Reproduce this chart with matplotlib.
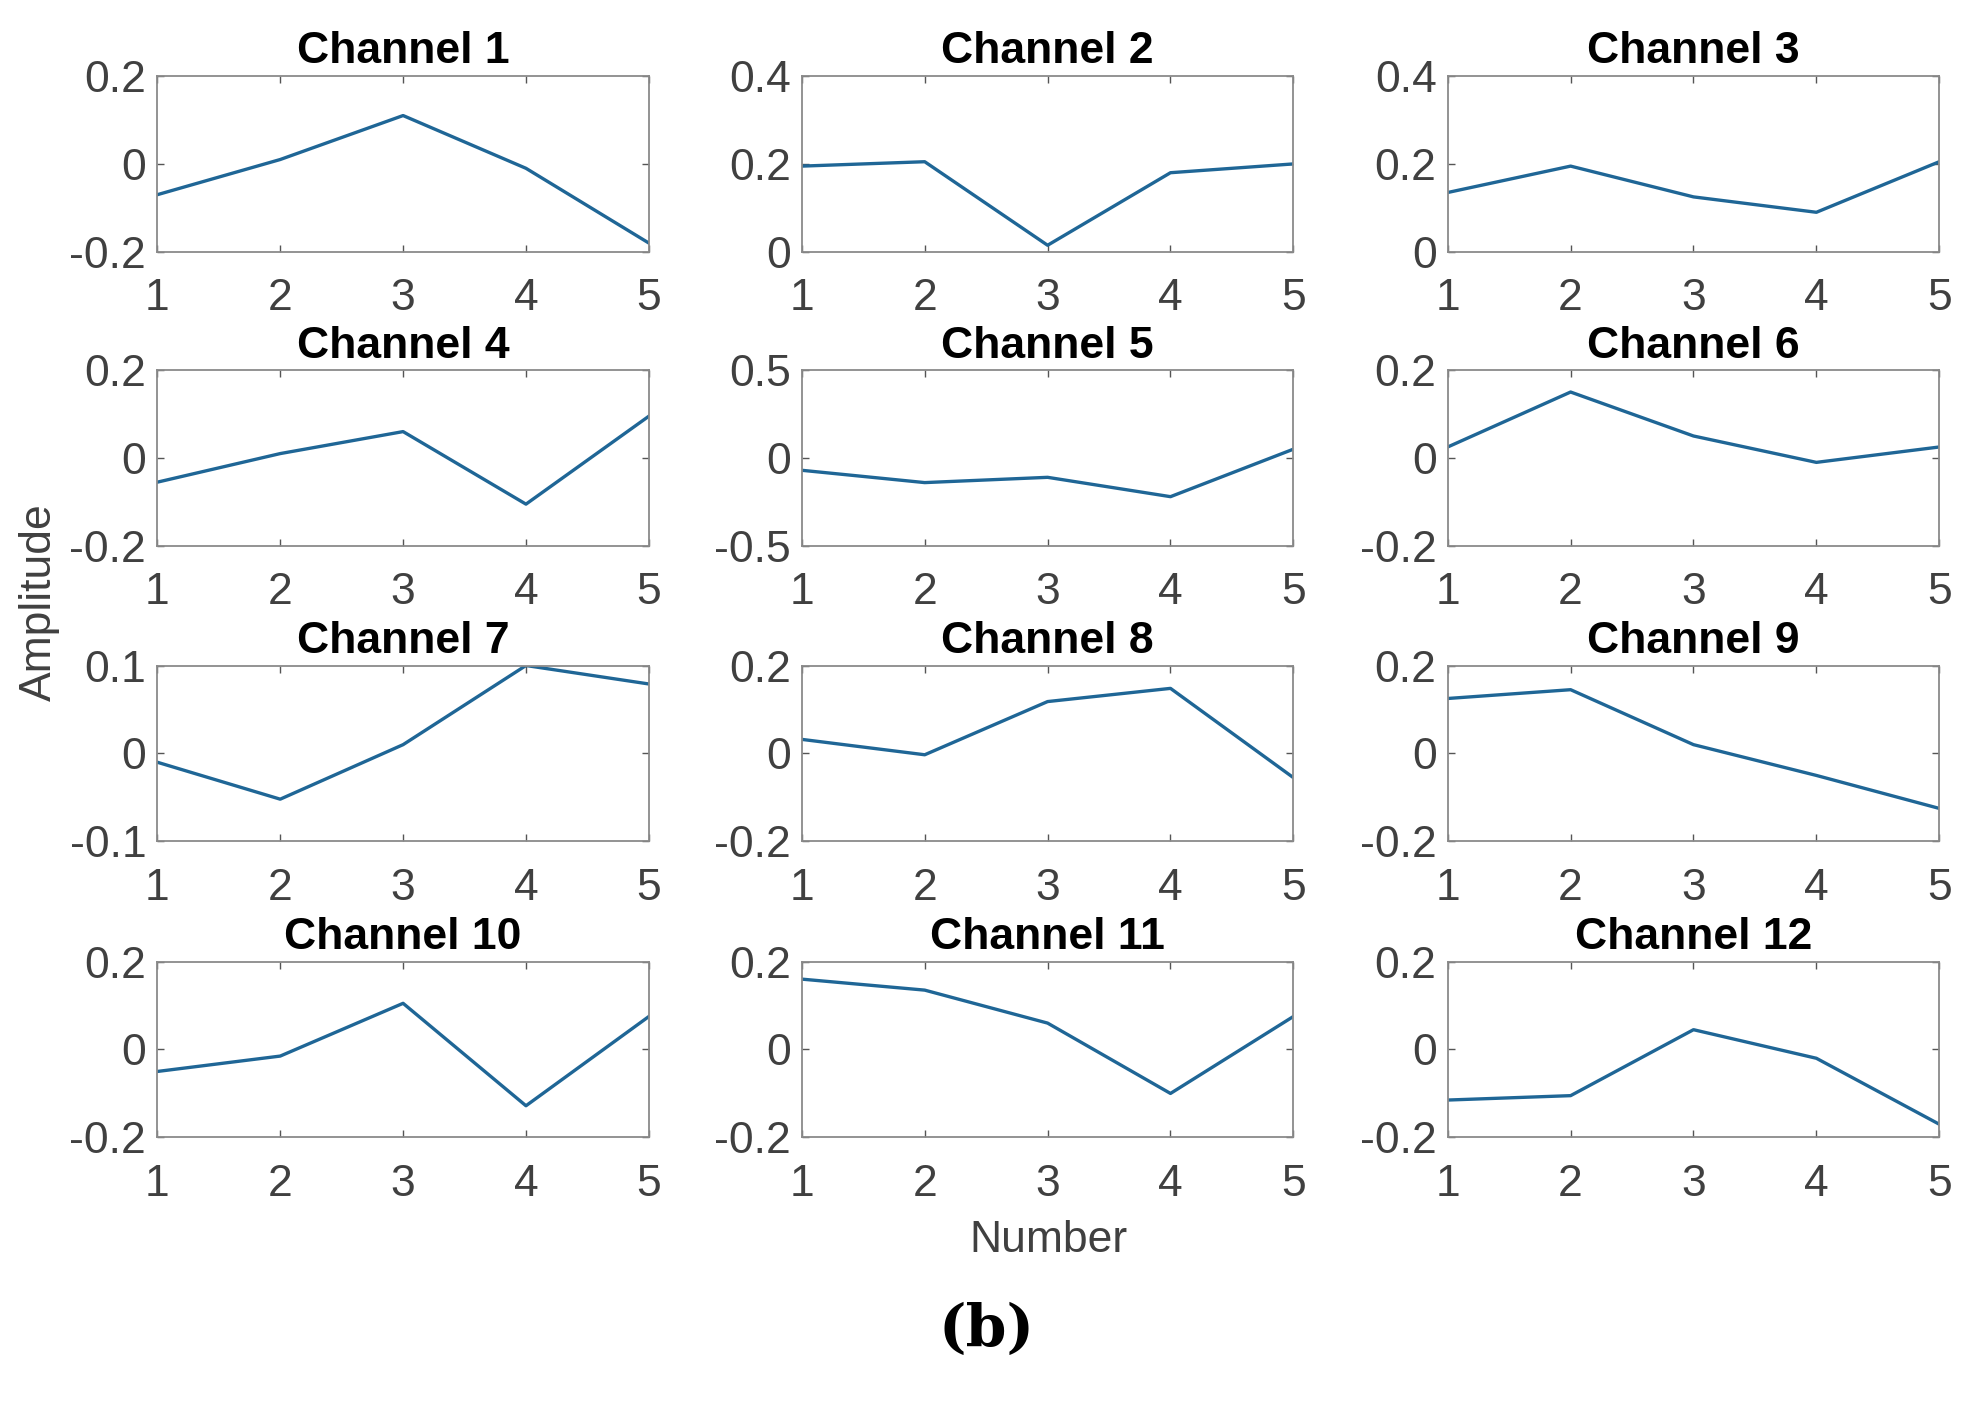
import numpy as np
import matplotlib.pyplot as plt
from matplotlib.ticker import FuncFormatter

plt.rcParams['font.family'] = ['Liberation Sans', 'DejaVu Sans']
plt.rcParams['axes.unicode_minus'] = False

# Amplitudes
numbers = [1, 2, 3, 4, 5]
ch1 = [-0.07, 0.01, 0.11, -0.01, -0.18]
ch2 = [0.195, 0.205, 0.015, 0.18, 0.20]
ch3 = [0.135, 0.195, 0.125, 0.09, 0.205]
ch4 = [-0.055, 0.01, 0.06, -0.105, 0.095]
ch5 = [-0.07, -0.14, -0.11, -0.22, 0.05]
ch6 = [0.025, 0.15, 0.05, -0.01, 0.025]
ch7 = [-0.01, -0.052, 0.01, 0.10, 0.079]
ch8 = [0.032, -0.003, 0.118, 0.148, -0.055]
ch9 = [0.125, 0.145, 0.02, -0.05, -0.125]
ch10 = [-0.05, -0.015, 0.105, -0.128, 0.075]
ch11 = [0.16, 0.135, 0.06, -0.10, 0.075]
ch12 = [-0.115, -0.105, 0.045, -0.02, -0.17]
channels = [ch1, ch2, ch3, ch4, ch5, ch6, ch7, ch8, ch9, ch10, ch11, ch12]

# y limits of each panel
ylims = [(-0.2, 0.2), (0, 0.4), (0, 0.4),
         (-0.2, 0.2), (-0.5, 0.5), (-0.2, 0.2),
         (-0.1, 0.1), (-0.2, 0.2), (-0.2, 0.2),
         (-0.2, 0.2), (-0.2, 0.2), (-0.2, 0.2)]

fig = plt.figure(figsize=(19.74, 14.07), dpi=100)

lefts = [0.0797, 0.4062, 0.7334]
width = 0.249
bottoms = [0.821, 0.612, 0.402, 0.1916]
height = 0.125

text_grey = '#404040'
fmt = FuncFormatter(lambda v, pos: '%g' % round(v, 3))

for i in range(12):
    r, c = divmod(i, 3)
    ax = fig.add_axes([lefts[c], bottoms[r], width, height])
    ax.plot(numbers, channels[i], color='#1f6696', lw=2.4)
    ax.set_xlim(1, 5)
    lo, hi = ylims[i]
    ax.set_ylim(lo, hi)
    ax.set_xticks(numbers)
    ax.set_yticks([lo, (lo + hi) / 2, hi])
    ax.yaxis.set_major_formatter(fmt)
    ax.tick_params(direction='in', length=5, width=1, top=True, right=True,
                   colors='#555555', labelcolor=text_grey, labelsize=32)
    ax.tick_params(axis='x', pad=19)
    ax.tick_params(axis='y', pad=8)
    for s in ax.spines.values():
        s.set_color('#8a8a8a')
        s.set_linewidth(1.3)
    ax.set_title('Channel ' + str(i + 1), fontsize=32, fontweight='bold', pad=9)

fig.text(0.531, 0.118, 'Number', fontsize=32, color=text_grey, ha='center', va='center')
fig.text(0.020, 0.572, 'Amplitude', fontsize=32, color=text_grey, ha='center', va='center',
         rotation=90)
fig.text(0.5, 0.055, '(b)', fontsize=42, fontweight='bold', family='DejaVu Serif',
         ha='center', va='center')

fig.savefig('out.png', dpi=100, facecolor='white')
